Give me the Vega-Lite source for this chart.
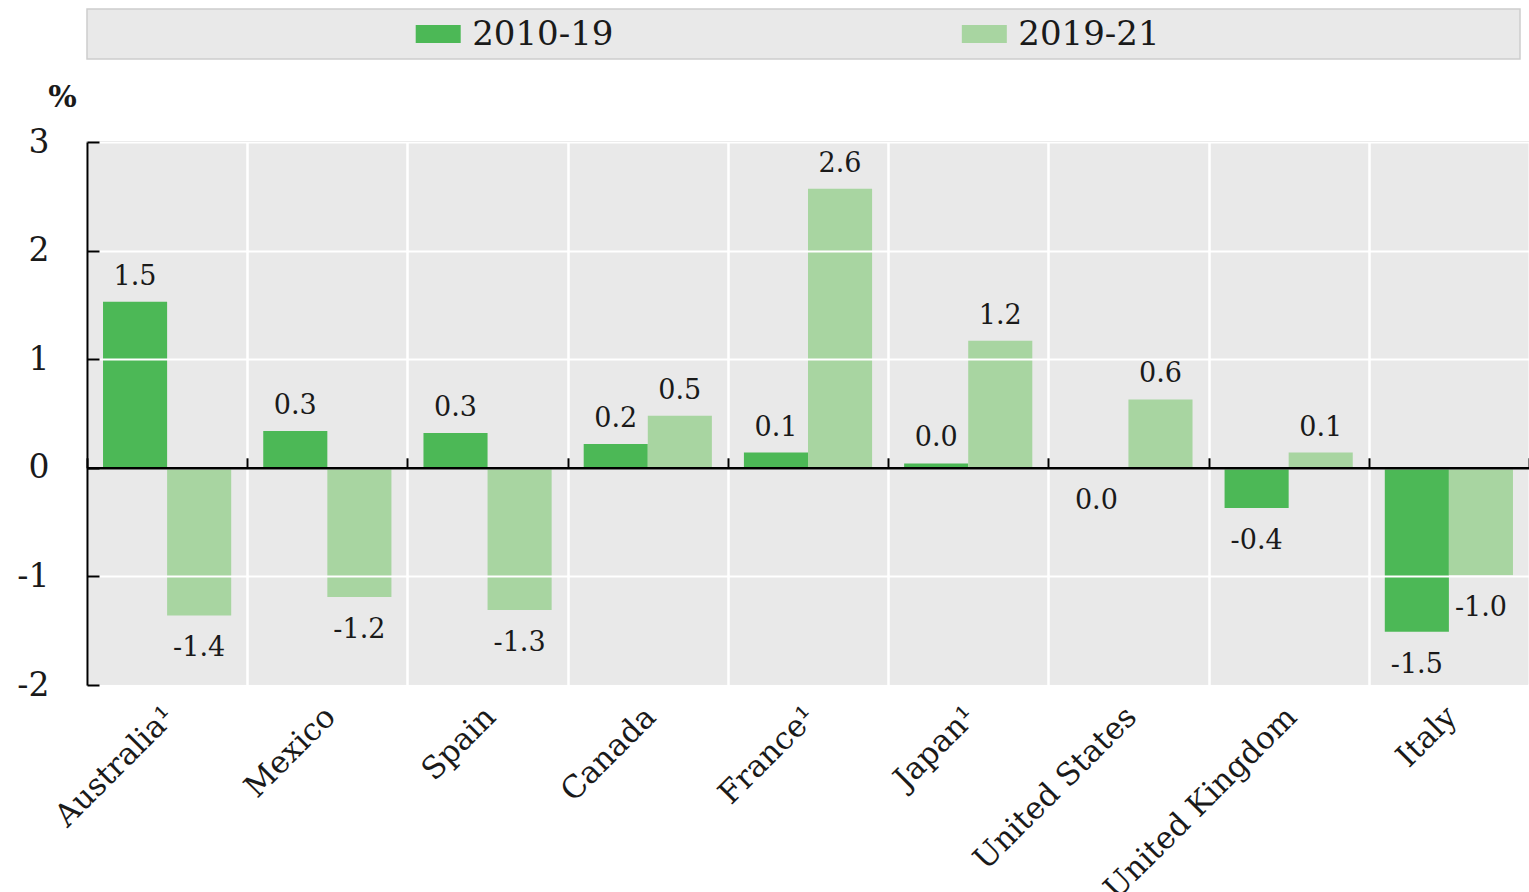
{
  "$schema": "https://vega.github.io/schema/vega-lite/v6.json",
  "padding": {"left": 16, "top": 8, "right": 0, "bottom": 0},
  "bounds": "flush",
  "spacing": 83,
  "config": {
    "font": "DejaVu Serif",
    "view": {"fill": "#e9e9e9", "stroke": "#cdcdcd", "strokeWidth": 1.5},
    "locale": {"number": {"decimal": ".", "thousands": ",", "grouping": [3], "currency": ["$", ""], "minus": "-"}}
  },
  "datasets": {
    "bars": [
      {"country": "Australia¹", "series": "2010-19", "value": 1.53},
      {"country": "Australia¹", "series": "2019-21", "value": -1.36},
      {"country": "Mexico", "series": "2010-19", "value": 0.34},
      {"country": "Mexico", "series": "2019-21", "value": -1.19},
      {"country": "Spain", "series": "2010-19", "value": 0.32},
      {"country": "Spain", "series": "2019-21", "value": -1.31},
      {"country": "Canada", "series": "2010-19", "value": 0.22},
      {"country": "Canada", "series": "2019-21", "value": 0.48},
      {"country": "France¹", "series": "2010-19", "value": 0.14},
      {"country": "France¹", "series": "2019-21", "value": 2.57},
      {"country": "Japan¹", "series": "2010-19", "value": 0.04},
      {"country": "Japan¹", "series": "2019-21", "value": 1.17},
      {"country": "United States", "series": "2010-19", "value": 0},
      {"country": "United States", "series": "2019-21", "value": 0.63},
      {"country": "United Kingdom", "series": "2010-19", "value": -0.37},
      {"country": "United Kingdom", "series": "2019-21", "value": 0.14},
      {"country": "Italy", "series": "2010-19", "value": -1.51},
      {"country": "Italy", "series": "2019-21", "value": -0.99}
    ]
  },
  "vconcat": [
    {
      "width": 1433,
      "height": 50,
      "data": {"values": [{"series": "2010-19"}, {"series": "2019-21"}]},
      "encoding": {
        "x": {
          "field": "series",
          "type": "nominal",
          "axis": null,
          "scale": {"type": "point", "padding": 0.812, "align": 0.396}
        }
      },
      "layer": [
        {
          "mark": {"type": "point", "shape": "M-1,-0.4H1V0.4H-1Z", "filled": true, "size": 2025, "opacity": 1},
          "encoding": {
            "color": {
              "field": "series",
              "type": "nominal",
              "scale": {"domain": ["2010-19", "2019-21"], "range": ["#4cb856", "#a8d5a1"]},
              "legend": null
            }
          }
        },
        {
          "mark": {"type": "text", "align": "left", "baseline": "middle", "dx": 34, "dy": 1, "fontSize": 34, "color": "#1a1a1a"},
          "encoding": {"text": {"field": "series"}}
        }
      ]
    },
    {
      "width": 1442,
      "height": 543,
      "data": {"name": "bars"},
      "encoding": {
        "y": {
          "field": "value",
          "type": "quantitative",
          "scale": {"domain": [-2, 3], "nice": false, "zero": false},
          "axis": {
            "values": [-2, -1, 0, 1, 2, 3],
            "title": "%",
            "titleAngle": 0,
            "titleAlign": "center",
            "titleBaseline": "alphabetic",
            "titleX": -25,
            "titleY": -36,
            "titleFontSize": 30,
            "titleFontWeight": "bold",
            "titleColor": "#1a1a1a",
            "labelFontSize": 33,
            "labelColor": "#1a1a1a",
            "labelPadding": 50,
            "domainColor": "#000000",
            "domainWidth": 2,
            "tickColor": "#000000",
            "tickWidth": 2,
            "tickSize": -12,
            "gridColor": "#ffffff",
            "gridWidth": 2,
            "zindex": 1
          }
        }
      },
      "resolve": {"axis": {"x": "independent"}},
      "layer": [
        {
          "mark": {"type": "bar"},
          "encoding": {
            "x": {
              "field": "country",
              "type": "nominal",
              "sort": null,
              "scale": {"paddingInner": 0, "paddingOuter": 0},
              "axis": {
                "title": null,
                "labelAngle": -45,
                "labelAlign": "right",
                "labelBaseline": "middle",
                "labelFontSize": 31,
                "labelColor": "#1a1a1a",
                "labelPadding": 27,
                "labelOffset": 3,
                "labelLimit": 500,
                "ticks": false,
                "domain": false,
                "grid": true,
                "tickBand": "extent",
                "gridColor": "#ffffff",
                "gridWidth": 2.5
              }
            },
            "xOffset": {
              "field": "series",
              "type": "nominal",
              "scale": {"paddingOuter": 0.25, "paddingInner": 0}
            },
            "color": {
              "field": "series",
              "type": "nominal",
              "scale": {"domain": ["2010-19", "2019-21"], "range": ["#4cb856", "#a8d5a1"]},
              "legend": null
            }
          }
        },
        {
          "transform": [{"filter": "datum.value > 0"}],
          "mark": {"type": "text", "baseline": "alphabetic", "dy": -17, "fontSize": 27, "color": "#1a1a1a"},
          "encoding": {
            "x": {
              "field": "country",
              "type": "nominal",
              "sort": null,
              "axis": {
                "orient": "top",
                "offset": -325.8,
                "title": null,
                "labels": false,
                "grid": false,
                "tickBand": "extent",
                "domainColor": "#000000",
                "domainWidth": 2.5,
                "tickColor": "#000000",
                "tickWidth": 2,
                "tickSize": 10,
                "zindex": 2
              }
            },
            "xOffset": {"field": "series", "type": "nominal"},
            "text": {"field": "value", "type": "quantitative", "format": ".1f"}
          }
        },
        {
          "transform": [{"filter": "datum.value <= 0"}],
          "mark": {"type": "text", "baseline": "alphabetic", "dy": 41, "fontSize": 27, "color": "#1a1a1a"},
          "encoding": {
            "x": {"field": "country", "type": "nominal", "sort": null, "axis": null},
            "xOffset": {"field": "series", "type": "nominal"},
            "text": {"field": "value", "type": "quantitative", "format": ".1f"}
          }
        }
      ]
    }
  ]
}
